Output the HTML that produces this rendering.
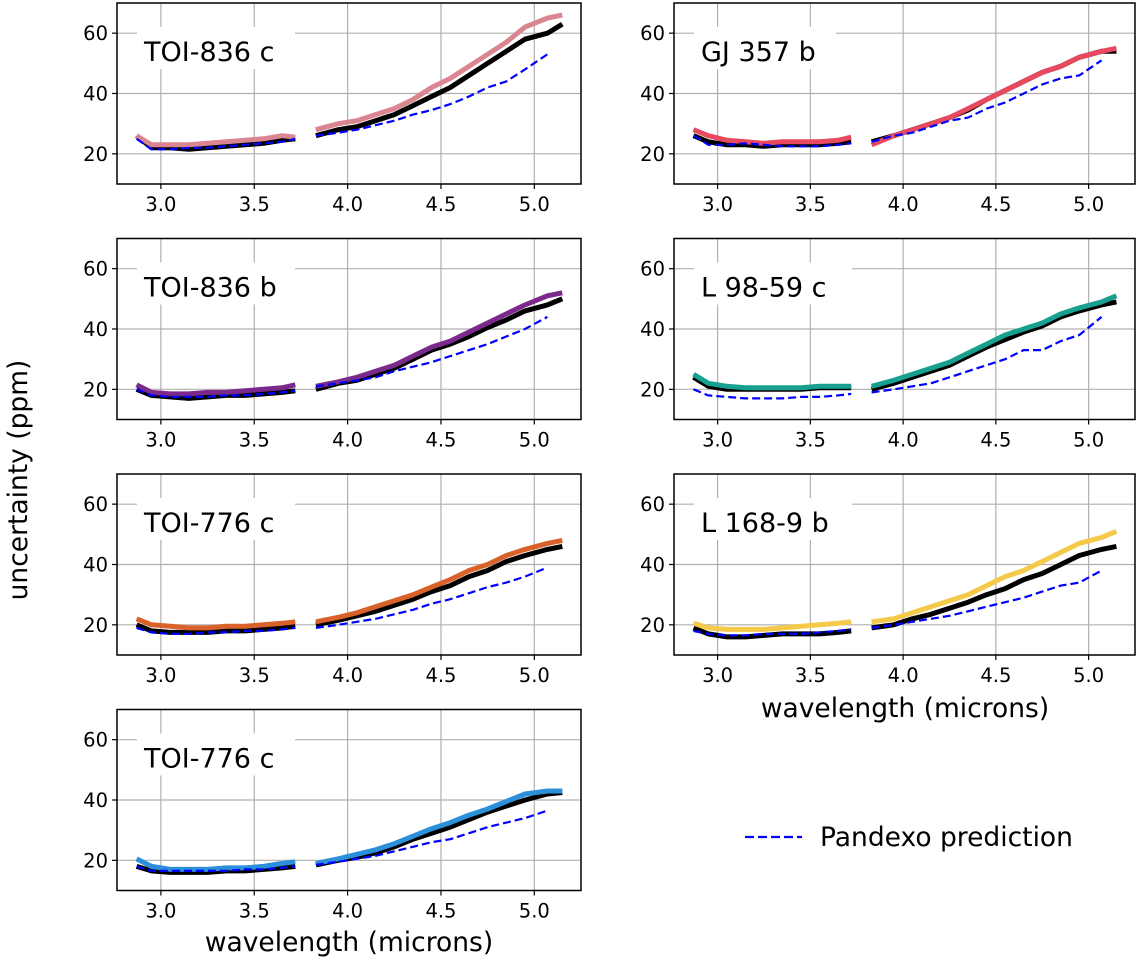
<!DOCTYPE html>
<html><head><meta charset="utf-8"><style>
html,body{margin:0;padding:0;background:#fff;}
svg{display:block;font-family:"DejaVu Sans","Liberation Sans",sans-serif;}
</style></head><body>
<svg id="fig" width="1142" height="960" viewBox="0 0 1142 960" xmlns="http://www.w3.org/2000/svg"></svg>
<script>
const wl = [2.87,2.95,3.05,3.15,3.25,3.35,3.45,3.55,3.65,3.72, 3.83,3.95,4.05,4.15,4.25,4.35,4.45,4.55,4.65,4.75,4.85,4.95,5.07,5.15];
const seg1Len = 10;
const xTicks = [3.0,3.5,4.0,4.5,5.0];
const xTickLabels = ["3.0","3.5","4.0","4.5","5.0"];
const yTicks = [20,40,60];
const yTickLabels = ["20","40","60"];
const panelNames = ["TOI-836 c","GJ 357 b","TOI-836 b","L 98-59 c","TOI-776 c","L 168-9 b","TOI-776 c"];
const panelColors = ["#d98690","#e8495f","#7b2a8c","#17a08f","#d9622b","#f5c94a","#2b8fd9"];
const colorSeries = [
 [26,23,23,23,23.5,24,24.5,25,26,25.5, 28,30,31,33,35,38,42,45,49,53,57,62,65,66],
 [28,26,24.5,24,23.5,24,24,24,24.5,25.5, 23,26,28,30,32,35,38,41,44,47,49,52,54,55],
 [21.5,19,18.5,18.5,19,19,19.5,20,20.5,21.5, 21,22.5,24,26,28,31,34,36,39,42,45,48,51,52],
 [25,22,21,20.5,20.5,20.5,20.5,21,21,21, 21,23,25,27,29,32,35,38,40,42,45,47,49,51],
 [22,20,19.5,19,19,19.5,19.5,20,20.5,21, 21,22.5,24,26,28,30,32.5,35,38,40,43,45,47,48],
 [20.5,19,18.5,18.5,18.5,19,19.5,20,20.5,21, 21,22,24,26,28,30,33,36,38,41,44,47,49,51],
 [20.5,18,17,17,17,17.5,17.5,18,19,19.5, 19,20.5,22,23.5,25.5,28,30.5,32.5,35,37,39.5,42,43,43]
];
const blackSeries = [
 [26,22,22,21.5,22,22.5,23,23.5,24.5,25, 26,28,29,31,33,36,39,42,46,50,54,58,60,63],
 [26,24,23,23,22.5,23,23,23,23.5,24, 24,26,28,30,32,34.5,38,41,44,47,49,52,54,54],
 [20,18,17.5,17,17.5,18,18,18.5,19,19.5, 20,22,23,25,27,30,33,35,37.5,40.5,43,46,48,50],
 [24,21,20,20,20,20,20,20.5,20.5,20.5, 20,22,24,26,28,31,34,36.5,39,41,44,46,48,49],
 [20,18,17.5,17.5,17.5,18,18,18.5,19,19.5, 20,21.5,23,24.5,26.5,28.5,31,33,36,38,41,43,45,46],
 [19,17,16,16,16.5,17,17,17,17.5,18, 19,20,22,23.5,25.5,27.5,30,32,35,37,40,43,45,46],
 [18,16.5,16,16,16,16.5,16.5,17,17.5,18, 18.5,20,21,22.5,24.5,27,29,31,33.5,36,38,40,42,42.5]
];
const pandexoSeries = [
 [25,21.5,21.5,22,22,22.5,23,23.5,24,25, 26,27,28,29.5,31,33,34.5,36.5,39,42,44,48,53,null],
 [26,23,23,23.5,23,22.5,22.5,22.5,23,23.5, 24,26,27,29,31,32,35,37,40,43,45,46,51,null],
 [20,18,17.5,17.5,17.5,18,18,18.5,19,19.5, 21,22,23,24,26,27.5,29,31,33,35,37.5,40,44,null],
 [20,18,17.5,17,17,17,17.5,17.5,18,18.5, 19,20,21,22,24,26,28,30,33,33,36,38,44,null],
 [19,17.5,17,17,17.5,17.5,18,18,18.5,19, 19,20,21,22,23.5,25,27,28.5,30.5,32.5,34,36,39,null],
 [18,17,16.5,16.5,17,17,17,17.5,18,18.5, 19,20,21,22,23,24.5,26,27.5,29,31,33,34,38,null],
 [18,16.5,16.5,16.5,16.5,16.5,17,17,17.5,18, 18.5,19.5,20.5,21.5,23,24.5,26,27,29,31,32.5,34,36.5,null]
];

const NS="http://www.w3.org/2000/svg";
const svg=document.getElementById('fig');
function mk(tag,attrs,parent){const e=document.createElementNS(NS,tag);for(const k in attrs)e.setAttribute(k,attrs[k]);(parent||svg).appendChild(e);return e;}
const cols=[{x0:117,x1:581},{x0:674,x1:1135}];
const rowTop=[3,238.5,474,709.5];
const H=181;
const xMin=2.765,xMax=5.25,yMin=10,yMax=70;
const layout=[[0,0],[1,0],[0,1],[1,1],[0,2],[1,2],[0,3]];
layout.forEach((pos,pi)=>{
  const c=cols[pos[0]],top=rowTop[pos[1]],bot=top+H;
  const sx=v=>c.x0+(v-xMin)/(xMax-xMin)*(c.x1-c.x0);
  const sy=v=>bot-(v-yMin)/(yMax-yMin)*H;
  const g=mk('g',{});
  
  
  xTicks.forEach((t,i)=>{
    const l=mk('line',{x1:sx(t),x2:sx(t),y1:top,y2:bot,stroke:'#b0b0b0','stroke-width':1.2},g);
    
    mk('line',{x1:sx(t),x2:sx(t),y1:bot,y2:bot+5,stroke:'#000','stroke-width':1.2},g);
    const tx=mk('text',{x:sx(t),y:bot+27,'text-anchor':'middle','font-size':19.5},g);
    tx.textContent=xTickLabels[i];
    
  });
  yTicks.forEach((t,i)=>{
    const l=mk('line',{x1:c.x0,x2:c.x1,y1:sy(t),y2:sy(t),stroke:'#b0b0b0','stroke-width':1.2},g);
    
    mk('line',{x1:c.x0-5,x2:c.x0,y1:sy(t),y2:sy(t),stroke:'#000','stroke-width':1.2},g);
    const tx=mk('text',{x:c.x0-9,y:sy(t)+7,'text-anchor':'end','font-size':19.5},g);
    tx.textContent=yTickLabels[i];
    
  });
  const bg=mk('rect',{x:c.x0+20,y:top+24,width:panelNames[pi].length*16+14,height:42,fill:'#fff'},g);
  
  const ti=mk('text',{x:c.x0+27,y:top+58,'font-size':27},g);
  ti.textContent=panelNames[pi];
  
  function path(vals,seg){
    let d='';let started=false;
    const s=seg===0?0:seg1Len,e=seg===0?seg1Len:wl.length;
    for(let i=s;i<e;i++){if(vals[i]==null)continue;d+=(started?'L':'M')+sx(wl[i]).toFixed(1)+','+sy(vals[i]).toFixed(1);started=true;}
    return d;
  }
  [0,1].forEach(seg=>{
    const b=mk('path',{d:path(blackSeries[pi],seg),fill:'none',stroke:'#000','stroke-width':5,'stroke-linejoin':'round'},g);
    
  });
  [0,1].forEach(seg=>{
    const p=mk('path',{d:path(colorSeries[pi],seg),fill:'none',stroke:panelColors[pi],'stroke-width':5,'stroke-linejoin':'round'},g);
    
  });
  [0,1].forEach(seg=>{
    const p=mk('path',{d:path(pandexoSeries[pi],seg),fill:'none',stroke:'#0000ff','stroke-width':2.2,'stroke-dasharray':'8,4'},g);
    
  });
  const fr=mk('rect',{x:c.x0,y:top,width:c.x1-c.x0,height:H,fill:'none',stroke:'#000','stroke-width':1.5},g);
  
});
const yl=mk('text',{x:0,y:0,'font-size':26.5,'text-anchor':'middle',transform:'translate(27,480) rotate(-90)'});
yl.textContent='uncertainty (ppm)';

const xl1=mk('text',{x:349,y:951,'font-size':26.5,'text-anchor':'middle'});
xl1.textContent='wavelength (microns)';

const xl2=mk('text',{x:905,y:717,'font-size':26.5,'text-anchor':'middle'});
xl2.textContent='wavelength (microns)';

const lg=mk('g',{});

const ll=mk('line',{x1:745,x2:802,y1:837,y2:837,stroke:'#0000ff','stroke-width':2.2,'stroke-dasharray':'9,4'},lg);

const lt=mk('text',{x:820,y:846,'font-size':26.5},lg);
lt.textContent='Pandexo prediction';

</script>
</body></html>
